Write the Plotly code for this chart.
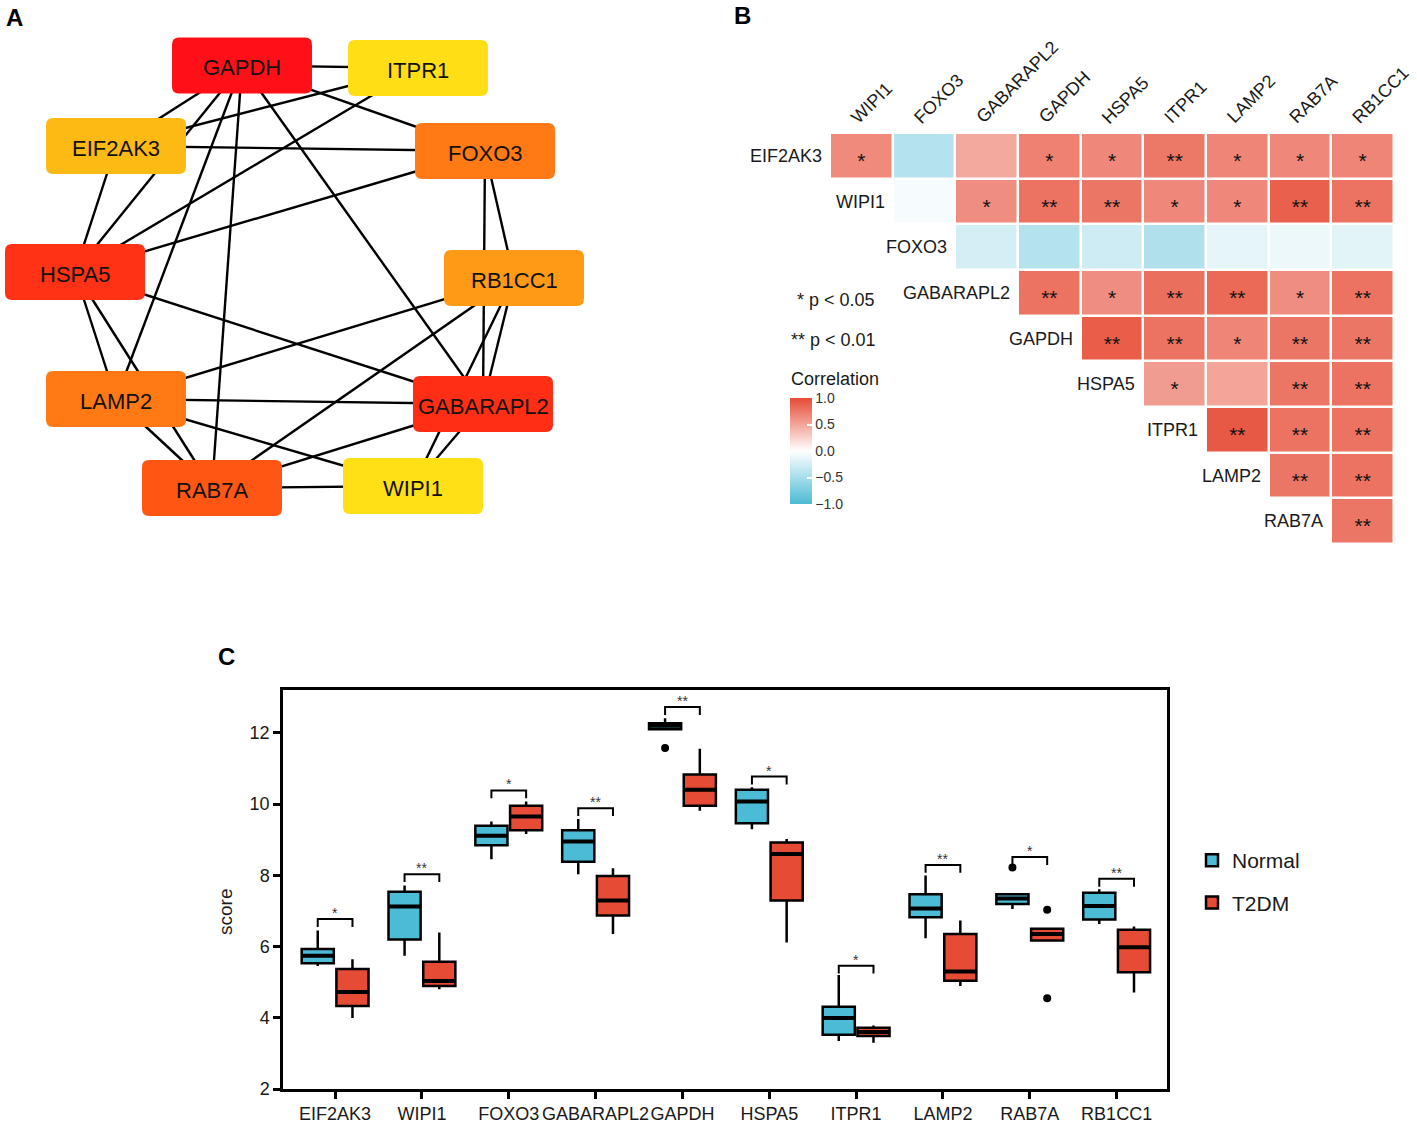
import plotly.graph_objects as go

W, H = 1417, 1123
FONT = "Liberation Sans, Arial, Helvetica, sans-serif"

# ---------------- Panel A: PPI network ----------------
node_names = ["GAPDH", "ITPR1", "EIF2AK3", "FOXO3", "HSPA5", "RB1CC1",
              "LAMP2", "GABARAPL2", "RAB7A", "WIPI1"]
node_x = [242, 418, 116, 485, 75, 514, 116, 483, 212, 413]
node_y = [65.5, 68, 146, 151, 272, 278, 399, 404, 488, 486]
node_colors = ["#FF1018", "#FFDE16", "#FDBA15", "#FF7A14", "#FF3216", "#FF9A16",
               "#FF7A14", "#FF2E15", "#FF5614", "#FFDF16"]
edges = [("GAPDH", "ITPR1"), ("GAPDH", "FOXO3"), ("GAPDH", "EIF2AK3"),
         ("GAPDH", "HSPA5"), ("GAPDH", "LAMP2"), ("GAPDH", "RAB7A"),
         ("GAPDH", "GABARAPL2"), ("ITPR1", "EIF2AK3"), ("ITPR1", "HSPA5"),
         ("EIF2AK3", "FOXO3"), ("EIF2AK3", "HSPA5"), ("FOXO3", "HSPA5"),
         ("FOXO3", "RB1CC1"), ("FOXO3", "GABARAPL2"), ("HSPA5", "GABARAPL2"),
         ("HSPA5", "LAMP2"), ("HSPA5", "RAB7A"), ("RB1CC1", "LAMP2"),
         ("RB1CC1", "RAB7A"), ("RB1CC1", "GABARAPL2"), ("RB1CC1", "WIPI1"),
         ("LAMP2", "GABARAPL2"), ("LAMP2", "WIPI1"), ("LAMP2", "RAB7A"),
         ("RAB7A", "GABARAPL2"), ("RAB7A", "WIPI1"), ("GABARAPL2", "WIPI1")]
NODE_W, NODE_H, NODE_R = 140, 56, 7

# ---------------- Panel B: correlation heatmap ----------------
heat_cols = ["WIPI1", "FOXO3", "GABARAPL2", "GAPDH", "HSPA5", "ITPR1", "LAMP2", "RAB7A", "RB1CC1"]
heat_rows = ["EIF2AK3", "WIPI1", "FOXO3", "GABARAPL2", "GAPDH", "HSPA5", "ITPR1", "LAMP2", "RAB7A"]
corr_rows = [
    [0.65, -0.42, 0.48, 0.70, 0.66, 0.75, 0.68, 0.66, 0.68],
    [-0.05, 0.63, 0.78, 0.76, 0.66, 0.66, 0.88, 0.78],
    [-0.25, -0.42, -0.28, -0.45, -0.14, -0.10, -0.16],
    [0.78, 0.63, 0.80, 0.83, 0.63, 0.78],
    [0.90, 0.78, 0.68, 0.76, 0.76],
    [0.55, 0.50, 0.76, 0.78],
    [0.92, 0.78, 0.78],
    [0.76, 0.78],
    [0.76],
]
star_rows = [
    ["*", "", "", "*", "*", "**", "*", "*", "*"],
    ["", "*", "**", "**", "*", "*", "**", "**"],
    ["", "", "", "", "", "", ""],
    ["**", "*", "**", "**", "*", "**"],
    ["**", "**", "*", "**", "**"],
    ["*", "", "**", "**"],
    ["**", "**", "**"],
    ["**", "**"],
    ["**"],
]
cbar_ticks = [-1.0, -0.5, 0.0, 0.5, 1.0]
cbar_ticktext = ["\u22121.0", "\u22120.5", "0.0", "0.5", "1.0"]

# ---------------- Panel C: box plots ----------------
genes = ["EIF2AK3", "WIPI1", "FOXO3", "GABARAPL2", "GAPDH", "HSPA5", "ITPR1", "LAMP2", "RAB7A", "RB1CC1"]
normal_lo = [5.45, 5.74, 8.45, 8.03, 12.10, 9.29, 3.35, 6.23, 7.05, 6.63]
normal_q1 = [5.53, 6.20, 8.84, 8.38, 12.10, 9.46, 3.52, 6.82, 7.19, 6.76]
normal_med = [5.74, 7.12, 9.11, 8.95, 12.20, 10.07, 3.99, 7.07, 7.35, 7.14]
normal_q3 = [5.93, 7.54, 9.39, 9.26, 12.27, 10.40, 4.31, 7.47, 7.47, 7.51]
normal_hi = [6.45, 7.71, 9.51, 9.58, 12.41, 10.47, 5.20, 7.99, 7.47, 7.61]
t2dm_lo = [3.99, 4.80, 9.16, 6.35, 9.81, 6.11, 3.30, 4.89, 6.17, 4.71]
t2dm_q1 = [4.33, 4.89, 9.26, 6.87, 9.95, 7.29, 3.49, 5.04, 6.17, 5.28]
t2dm_med = [4.72, 5.03, 9.65, 7.29, 10.40, 8.60, 3.60, 5.30, 6.35, 5.98]
t2dm_q3 = [5.37, 5.57, 9.95, 7.98, 10.83, 8.92, 3.72, 6.35, 6.50, 6.47]
t2dm_hi = [5.64, 6.39, 10.07, 8.20, 11.55, 9.02, 3.78, 6.73, 6.50, 6.56]
normal_out_gene = ["GAPDH", "RAB7A"]
normal_out_val = [11.57, 8.22]
t2dm_out_gene = ["RAB7A", "RAB7A"]
t2dm_out_val = [7.03, 4.55]
sig_y = [6.77, 8.03, 10.38, 9.88, 12.72, 10.77, 5.46, 8.29, 8.51, 7.90]
sig_label = ["*", "**", "*", "**", "**", "*", "*", "**", "*", "**"]

BLUE, RED = "#4CBBD5", "#E64B35"
OFF, BOXW = 0.2, 0.37

fig = go.Figure()

# ---- Panel A traces/shapes
pos = {n: (x, y) for n, x, y in zip(node_names, node_x, node_y)}
ex, ey = [], []
for a, b in edges:
    ex += [pos[a][0], pos[b][0], None]
    ey += [pos[a][1], pos[b][1], None]
fig.add_trace(go.Scatter(x=ex, y=ey, mode="lines", line=dict(color="black", width=2.4),
                         xaxis="x", yaxis="y", hoverinfo="skip", showlegend=False))


def rounded_rect(cx, cy, w, h, r):
    x0, x1 = cx - w / 2, cx + w / 2
    y0, y1 = cy - h / 2, cy + h / 2
    return (f"M {x0 + r},{y0} L {x1 - r},{y0} Q {x1},{y0} {x1},{y0 + r} "
            f"L {x1},{y1 - r} Q {x1},{y1} {x1 - r},{y1} L {x0 + r},{y1} "
            f"Q {x0},{y1} {x0},{y1 - r} L {x0},{y0 + r} Q {x0},{y0} {x0 + r},{y0} Z")


shapes = []
annotations = []
for n, x, y, c in zip(node_names, node_x, node_y, node_colors):
    shapes.append(dict(type="path", path=rounded_rect(x, y, NODE_W, NODE_H, NODE_R),
                       xref="x", yref="y", fillcolor=c, line=dict(width=0), layer="above"))
    annotations.append(dict(x=x, y=y, xref="x", yref="y", text=n, showarrow=False,
                            xanchor="center", yanchor="middle",
                            font=dict(size=22, color="#111111", family=FONT), yshift=-2))

# ---- Panel B heatmap
nr, nc = len(heat_rows), len(heat_cols)
z = [[None] * nc for _ in range(nr)]
for i, vals in enumerate(corr_rows):
    for k, v in enumerate(vals):
        z[i][i + k] = v
fig.add_trace(go.Heatmap(
    z=z, x=list(range(nc)), y=list(range(nr)), xaxis="x2", yaxis="y2",
    zmin=-1, zmax=1, xgap=2.5, ygap=2.5, hoverinfo="skip",
    colorscale=[[0, "#4DBBD5"], [0.5, "#FFFFFF"], [1, "#E64B35"]],
    colorbar=dict(x=790 / W, xanchor="left", xpad=0, y=1 - 451 / H, yanchor="middle", ypad=0,
                  len=106, lenmode="pixels", thickness=22, thicknessmode="pixels",
                  outlinewidth=0, ticks="inside", ticklen=5, tickcolor="white", tickwidth=1.5,
                  tickvals=cbar_ticks, ticktext=cbar_ticktext,
                  tickfont=dict(size=14, color="#333333", family=FONT)),
))
sx, sy, st = [], [], []
for i, stars in enumerate(star_rows):
    for k, s in enumerate(stars):
        if s:
            sx.append(i + k)
            sy.append(i + 0.15)
            st.append(s)
fig.add_trace(go.Scatter(x=sx, y=sy, text=st, mode="text", xaxis="x2", yaxis="y2",
                         textfont=dict(size=21, color="#111111", family=FONT),
                         hoverinfo="skip", showlegend=False))
for i, r in enumerate(heat_rows):
    annotations.append(dict(x=i - 0.5, y=i, xref="x2", yref="y2", text=r, showarrow=False,
                            xanchor="right", yanchor="middle", xshift=-6,
                            font=dict(size=18, color="#1a1a1a", family=FONT)))
for j, c in enumerate(heat_cols):
    annotations.append(dict(x=j, y=-0.5, xref="x2", yref="y2", text=c, showarrow=False,
                            textangle=-45, xanchor="left", yanchor="bottom", xshift=-17, yshift=3,
                            font=dict(size=18, color="#1a1a1a", family=FONT)))
annotations += [
    dict(x=836 / W, y=1 - 300 / H, xref="paper", yref="paper", text="* p < 0.05", showarrow=False,
         xanchor="center", yanchor="middle", font=dict(size=18, color="#1a1a1a", family=FONT)),
    dict(x=833 / W, y=1 - 340 / H, xref="paper", yref="paper", text="** p < 0.01", showarrow=False,
         xanchor="center", yanchor="middle", font=dict(size=18, color="#1a1a1a", family=FONT)),
    dict(x=789 / W, y=1 - 379 / H, xref="paper", yref="paper", text="Correlation", showarrow=False,
         xanchor="left", yanchor="middle", font=dict(size=18, color="#1a1a1a", family=FONT)),
]

# ---- Panel C boxes
xs_n = [i - OFF for i in range(len(genes))]
xs_t = [i + OFF for i in range(len(genes))]
for name, xs, col, lo, q1, med, q3, hi in [
        ("Normal", xs_n, BLUE, normal_lo, normal_q1, normal_med, normal_q3, normal_hi),
        ("T2DM", xs_t, RED, t2dm_lo, t2dm_q1, t2dm_med, t2dm_q3, t2dm_hi)]:
    fig.add_trace(go.Box(x=xs, q1=q1, median=med, q3=q3, lowerfence=lo, upperfence=hi,
                         name=name, xaxis="x3", yaxis="y3", fillcolor=col,
                         line=dict(color="black", width=2.5), width=BOXW, whiskerwidth=0,
                         boxpoints=False, hoverinfo="skip", legendgroup=name))
    mx, my = [], []
    for x, m in zip(xs, med):
        mx += [x - BOXW / 2, x + BOXW / 2, None]
        my += [m, m, None]
    fig.add_trace(go.Scatter(x=mx, y=my, mode="lines", line=dict(color="black", width=4),
                             xaxis="x3", yaxis="y3", hoverinfo="skip", showlegend=False))

gi = {g: i for i, g in enumerate(genes)}
fig.add_trace(go.Scatter(x=[gi[g] - OFF for g in normal_out_gene] + [gi[g] + OFF for g in t2dm_out_gene],
                         y=normal_out_val + t2dm_out_val, mode="markers",
                         marker=dict(color="black", size=8), xaxis="x3", yaxis="y3",
                         hoverinfo="skip", showlegend=False))
bx, by = [], []
for i, b in enumerate(sig_y):
    bx += [i - OFF, i - OFF, i + OFF, i + OFF, None]
    by += [b - 0.22, b, b, b - 0.22, None]
    annotations.append(dict(x=i, y=b, xref="x3", yref="y3", text=sig_label[i], showarrow=False,
                            xanchor="center", yanchor="bottom", yshift=-4,
                            font=dict(size=14, color="#333333", family=FONT)))
fig.add_trace(go.Scatter(x=bx, y=by, mode="lines", line=dict(color="black", width=2),
                         xaxis="x3", yaxis="y3", hoverinfo="skip", showlegend=False))

annotations.append(dict(x=225 / W, y=1 - 912 / H, xref="paper", yref="paper", text="score",
                        textangle=-90, showarrow=False, xanchor="center", yanchor="middle",
                        font=dict(size=19, color="#1a1a1a", family=FONT)))

# panel letters
for t, px, py in [("A", 14, 17), ("B", 742, 15), ("C", 226, 656)]:
    annotations.append(dict(x=px / W, y=1 - py / H, xref="paper", yref="paper", text=f"<b>{t}</b>",
                            showarrow=False, xanchor="center", yanchor="middle",
                            font=dict(size=24, color="black", family=FONT)))

hidden = dict(visible=False, showgrid=False, zeroline=False, automargin=False)
axis_c = dict(showline=True, linecolor="black", linewidth=2.5, mirror=True, ticks="outside",
              ticklen=7, tickwidth=2.5, tickcolor="black", showgrid=False, zeroline=False,
              automargin=False, tickangle=0,
              tickfont=dict(size=18, color="#1a1a1a", family=FONT))

fig.update_layout(
    width=W, height=H, margin=dict(l=0, r=0, t=0, b=0, autoexpand=False),
    paper_bgcolor="white", plot_bgcolor="white",
    font=dict(family=FONT),
    xaxis=dict(domain=[0, 600 / W], range=[0, 600], **hidden),
    yaxis=dict(domain=[1 - 530 / H, 1 - 30 / H], range=[530, 30], **hidden),
    xaxis2=dict(domain=[830 / W, 1394 / W], range=[-0.5, 8.5], anchor="y2", **hidden),
    yaxis2=dict(domain=[1 - 544 / H, 1 - 133 / H], range=[8.5, -0.5], anchor="x2", **hidden),
    xaxis3=dict(domain=[283 / W, 1167 / W], range=[-0.6, 9.58], anchor="y3",
                tickvals=list(range(len(genes))), ticktext=genes, **axis_c),
    yaxis3=dict(domain=[1 - 1089 / H, 1 - 690 / H], range=[2, 13.2], anchor="x3",
                tickvals=[2, 4, 6, 8, 10, 12], **axis_c),
    boxmode="overlay",
    shapes=shapes, annotations=annotations,
    legend=dict(x=1192 / W, y=1 - 840 / H, xanchor="left", yanchor="top",
                font=dict(size=21, color="#1a1a1a", family=FONT),
                tracegroupgap=12, bgcolor="rgba(0,0,0,0)"),
    showlegend=True,
)

fig.write_html("out.html", config={"displayModeBar": False},
               post_script="document.body.style.margin='0';")
